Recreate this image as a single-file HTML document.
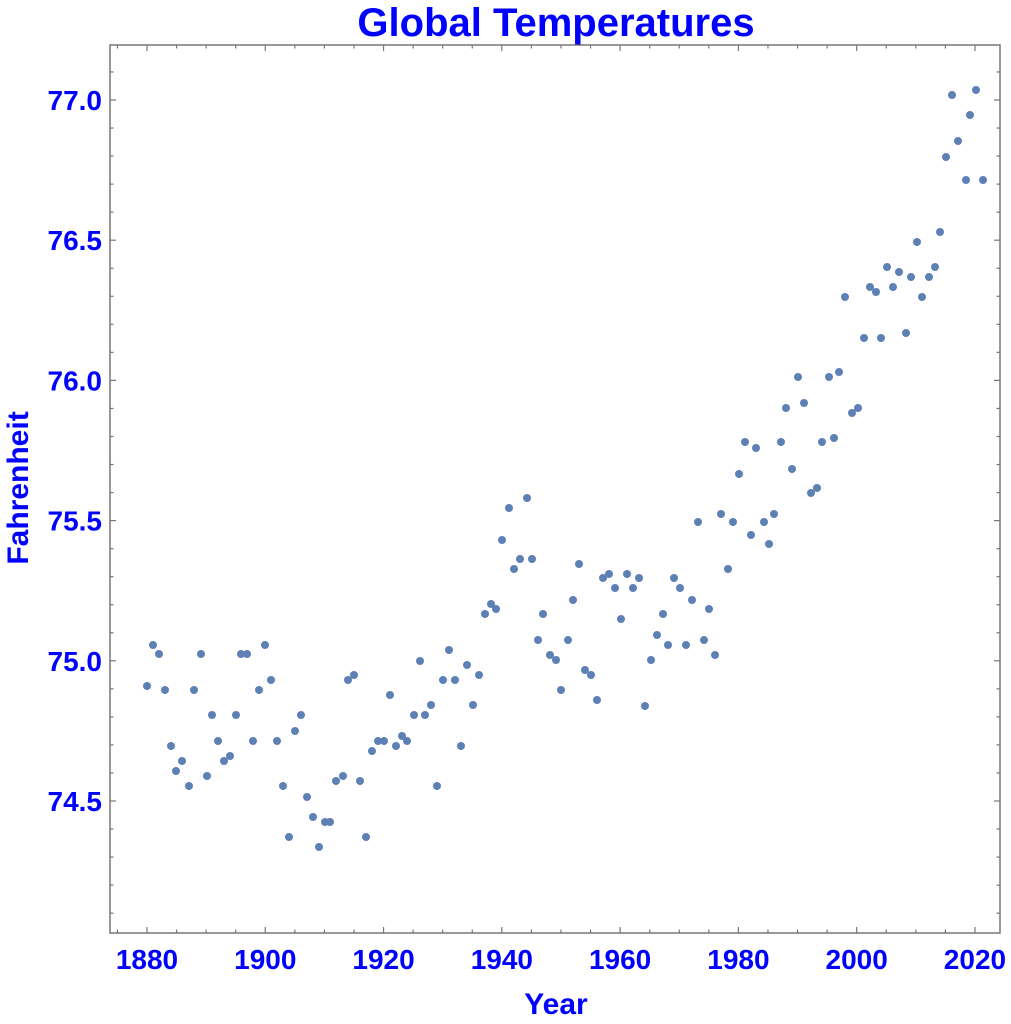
<!DOCTYPE html>
<html><head><meta charset="utf-8"><style>
html,body{margin:0;padding:0;background:#fff;}
svg{display:block;font-family:"Liberation Sans",sans-serif;}
</style></head><body>
<svg id="s" width="1011" height="1024" xmlns="http://www.w3.org/2000/svg">
<rect x="110" y="45" width="890" height="888" fill="none" stroke="#777" stroke-width="1.5"/>
<g id="t" stroke="#777" stroke-width="1.2"></g>
<g id="p" fill="#5e81b5"></g>
<g id="l" fill="#0000ff" font-weight="bold" font-size="28"></g>
<text x="556" y="36" fill="#0000ff" font-weight="bold" font-size="40" text-anchor="middle">Global Temperatures</text>
<text x="556" y="1014" fill="#0000ff" font-weight="bold" font-size="30" text-anchor="middle">Year</text>
<text transform="translate(28,488) rotate(-90)" fill="#0000ff" font-weight="bold" font-size="30" text-anchor="middle">Fahrenheit</text>
</svg>
<script>
var NS="http://www.w3.org/2000/svg";
function el(g,n,a,txt){var e=document.createElementNS(NS,n);for(var k in a)e.setAttribute(k,a[k]);if(txt)e.textContent=txt;document.getElementById(g).appendChild(e);}
function X(y){return 147+(y-1880)*5.914;}
function Y(v){return 100+(77-v)*280.4;}
for(var yr=1875;yr<=2020;yr+=5){var x=X(yr),m=(yr%20==0),L=m?6:3.5;
el('t','line',{x1:x,x2:x,y1:933,y2:933-L});el('t','line',{x1:x,x2:x,y1:45,y2:45+L});
if(m)el('l','text',{x:x,y:969,'text-anchor':'middle'},String(yr));}
for(var i=1;i<=31;i++){var v=74+i*0.1,y=Y(v),m=(i%5==0),L=m?6:3.5;
el('t','line',{x1:110,x2:110+L,y1:y,y2:y});el('t','line',{x1:1000,x2:1000-L,y1:y,y2:y});
if(m)el('l','text',{x:102,y:y+10,'text-anchor':'end'},v.toFixed(1));}
var P=[[147,686],[153,645],[159,654],[165,690],[171,746],[176,771],[182,761],[189,786],[194,690],[201,654],[207,776],[212,715],[218,741],[224,761],[230,756],[236,715],[241,654],[247,654],[253,741],[259,690],[265,645],[271,680],[277,741],[283,786],[289,837],[295,731],[301,715],[307,797],[313,817],[319,847],[325,822],[330,822],[336,781],[343,776],[348,680],[354,675],[360,781],[366,837],[372,751],[378,741],[384,741],[390,695],[396,746],[402,736],[407,741],[414,715],[420,661],[425,715],[431,705],[437,786],[443,680],[449,650],[455,680],[461,746],[467,665],[473,705],[479,675],[485,614],[491,604],[496,609],[502,540],[509,508],[514,569],[520,559],[527,498],[532,559],[538,640],[543,614],[550,655],[556,660],[561,690],[568,640],[573,600],[579,564],[585,670],[591,675],[597,700],[603,578],[609,574],[615,588],[621,619],[627,574],[633,588],[639,578],[645,706],[651,660],[657,635],[663,614],[668,645],[674,578],[680,588],[686,645],[692,600],[698,522],[704,640],[709,609],[715,655],[721,514],[728,569],[733,522],[739,474],[745,442],[751,535],[756,448],[764,522],[769,544],[774,514],[781,442],[786,408],[792,469],[798,377],[804,403],[811,493],[817,488],[822,442],[829,377],[834,438],[839,372],[845,297],[852,413],[858,408],[864,338],[870,287],[876,292],[881,338],[887,267],[893,287],[899,272],[906,333],[911,277],[917,242],[922,297],[929,277],[935,267],[940,232],[946,157],[952,95],[958,141],[966,180],[970,115],[976,90],[983,180]];
P.forEach(function(p){el('p','circle',{cx:p[0],cy:p[1],r:4});});
</script>
</body></html>
